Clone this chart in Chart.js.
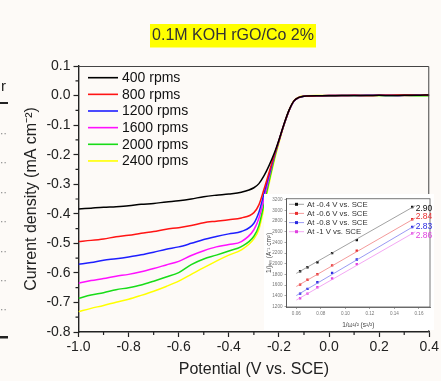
<!DOCTYPE html>
<html><head><meta charset="utf-8">
<script src="https://cdn.jsdelivr.net/npm/chart.js@4.4.1/dist/chart.umd.min.js"></script>
<style>
html,body{margin:0;padding:0;background:#fdfaf7;}
#wrap{position:relative;width:441px;height:381px;overflow:hidden;}
#main{position:absolute;left:0;top:0;}
#inset{position:absolute;left:264px;top:194px;}
</style></head><body>
<div id="wrap"><canvas id="main" width="441" height="381"></canvas><canvas id="inset" width="170" height="136"></canvas></div>
<script>
// ---------- data (main LSV curves) ----------
const potential = [-1.0,-0.95,-0.9,-0.85,-0.8,-0.75,-0.7,-0.65,-0.6,-0.55,-0.5,-0.45,-0.4,-0.35,-0.3,-0.28,-0.26,-0.24,-0.22,-0.2,-0.18,-0.16,-0.14,-0.12,-0.1,-0.05,0,0.05,0.1,0.15,0.2,0.25,0.3,0.35,0.4];
const j400  = [-0.384,-0.381,-0.378,-0.376,-0.373,-0.368,-0.365,-0.360,-0.356,-0.350,-0.342,-0.337,-0.333,-0.327,-0.312,-0.298,-0.272,-0.238,-0.198,-0.150,-0.097,-0.050,-0.018,-0.006,-0.002,-0.001,-0.001,0.000,0.000,0.000,0.001,0.000,0.001,0.001,0.002];
const j800  = [-0.494,-0.490,-0.485,-0.478,-0.473,-0.466,-0.460,-0.452,-0.447,-0.440,-0.430,-0.425,-0.420,-0.414,-0.396,-0.370,-0.318,-0.262,-0.205,-0.152,-0.098,-0.051,-0.018,-0.006,-0.002,-0.001,0.000,0.000,0.001,0.000,0.001,0.001,0.002,0.001,0.002];
const j1200 = [-0.571,-0.565,-0.557,-0.552,-0.546,-0.539,-0.530,-0.520,-0.512,-0.500,-0.487,-0.477,-0.468,-0.460,-0.432,-0.395,-0.333,-0.270,-0.208,-0.153,-0.099,-0.051,-0.019,-0.006,-0.002,-0.001,0.000,0.000,0.000,0.001,0.001,0.000,0.001,0.002,0.001];
const j1600 = [-0.635,-0.626,-0.619,-0.611,-0.605,-0.596,-0.585,-0.573,-0.561,-0.541,-0.525,-0.512,-0.504,-0.494,-0.454,-0.415,-0.350,-0.278,-0.210,-0.153,-0.099,-0.052,-0.019,-0.007,-0.002,-0.001,0.000,0.000,0.001,0.000,0.001,0.001,0.000,0.001,0.001];
const j2000 = [-0.686,-0.675,-0.667,-0.657,-0.650,-0.641,-0.628,-0.614,-0.599,-0.572,-0.553,-0.540,-0.526,-0.511,-0.476,-0.440,-0.368,-0.292,-0.218,-0.155,-0.100,-0.052,-0.019,-0.007,-0.002,-0.001,0.000,0.000,0.000,0.000,0.000,0.000,0.000,-0.001,-0.001];
const j2400 = [-0.731,-0.720,-0.710,-0.699,-0.689,-0.676,-0.662,-0.646,-0.628,-0.605,-0.582,-0.560,-0.540,-0.522,-0.485,-0.452,-0.380,-0.300,-0.225,-0.160,-0.100,-0.050,-0.017,-0.005,-0.001,0.000,0.000,0.000,0.000,0.000,0.000,0.000,0.000,0.000,0.000];
const rpmLabels = ['400 rpms','800 rpms','1200 rpms','1600 rpms','2000 rpms','2400 rpms'];
const xTicks = [-1.0,-0.8,-0.6,-0.4,-0.2,0.0,0.2,0.4];
const xMinor = [-0.9,-0.7,-0.5,-0.3,-0.1,0.1,0.3];
const yTicks = [-0.8,-0.7,-0.6,-0.5,-0.4,-0.3,-0.2,-0.1,0.0,0.1];
const yMinor = [-0.75,-0.65,-0.55,-0.45,-0.35,-0.25,-0.15,-0.05,0.05];
const chartTitle = '0.1M KOH rGO/Co 2%';

// ---------- data (inset K-L plot) ----------
const invSqrtOmega = [0.0631,0.0691,0.0772,0.0892,0.1093,0.1545];
const kl04 = [1860,1935,2030,2200,2445,3065];
const kl06 = [1610,1700,1805,1970,2245,2835];
const kl08 = [1440,1530,1655,1830,2080,2690];
const kl10 = [1355,1440,1560,1725,1995,2570];
const fitX = [0.060,0.157];
const fit04 = [1820,3090];
const fit06 = [1575,2860];
const fit08 = [1405,2720];
const fit10 = [1320,2600];
const klLabels = ['At -0.4 V vs. SCE','At -0.6 V vs. SCE','At -0.8 V vs. SCE','At -1 V vs. SCE'];
const electronNumbers = ['2.90','2.84','2.83','2.86'];
const insetXTicks = [0.06,0.08,0.10,0.12,0.14,0.16];
const insetYTicks = [1200,1400,1600,1800,2000,2200,2400,2600,2800,3000,3200];

// ---------- main chart ----------
const FONT = '"Liberation Sans", Arial, sans-serif';
const curveColors = ['#000000','#ff1414','#1e1eff','#ff10ff','#18dc18','#ffff00'];
const series = [j400,j800,j1200,j1600,j2000,j2400];
const fmt1 = v => (Math.abs(v) < 1e-9 ? '0.0' : Number(v).toFixed(1));

const decoPlugin = {
  id: 'deco',
  beforeDraw(chart) {
    const ctx = chart.ctx;
    ctx.save();
    ctx.fillStyle = '#222';
    ctx.font = '15px ' + FONT;
    ctx.textBaseline = 'alphabetic';
    ctx.fillText('r', 1, 91);
    ctx.fillRect(0, 102, 8, 2);
    ctx.fillRect(0, 336, 8, 2.5);
    ctx.fillStyle = '#999';
    [133,162,192,221,251,280,309].forEach(y => { ctx.fillRect(1, y, 1.3, 1.3); ctx.fillRect(4.5, y, 1.3, 1.3); });
    ctx.fillStyle = '#ffff00';
    ctx.fillRect(150, 24, 166, 23.5);
    ctx.fillStyle = '#333';
    ctx.font = '16px ' + FONT;
    ctx.textAlign = 'center';
    ctx.textBaseline = 'middle';
    ctx.fillText(chartTitle, 233, 36);
    ctx.restore();
  },
  afterDraw(chart) {
    const ctx = chart.ctx, a = chart.chartArea;
    const xs = chart.scales.x, ys = chart.scales.y;
    ctx.save();
    ctx.strokeStyle = '#444';
    ctx.lineWidth = 1;
    ctx.beginPath();
    ctx.moveTo(a.left, a.top + 0.5); ctx.lineTo(a.right - 0.5, a.top + 0.5); ctx.lineTo(a.right - 0.5, a.bottom);
    ctx.stroke();
    ctx.strokeStyle = '#222';
    ctx.lineWidth = 1.2;
    ctx.beginPath();
    xMinor.forEach(v => { const p = xs.getPixelForValue(v); ctx.moveTo(p, a.bottom); ctx.lineTo(p, a.bottom + 3); });
    yMinor.forEach(v => { const p = ys.getPixelForValue(v); ctx.moveTo(a.left, p); ctx.lineTo(a.left - 3, p); });
    ctx.stroke();
    chart.data.datasets.forEach((ds, i) => {
      const y = 77.7 + 16.65 * i;
      ctx.strokeStyle = ds.borderColor;
      ctx.lineWidth = 1.6;
      ctx.beginPath(); ctx.moveTo(88, y); ctx.lineTo(118, y); ctx.stroke();
      ctx.fillStyle = '#111';
      ctx.font = '14px ' + FONT;
      ctx.textBaseline = 'middle';
      ctx.textAlign = 'left';
      ctx.fillText(ds.label, 122, y + 0.5);
    });
    ctx.restore();
  }
};

new Chart(document.getElementById('main'), {
  type: 'line',
  data: {
    datasets: series.map((arr, i) => ({
      label: rpmLabels[i],
      data: potential.map((x, k) => ({ x: x, y: arr[k] })),
      borderColor: curveColors[i],
      borderWidth: 1.5,
      pointRadius: 0,
      cubicInterpolationMode: 'monotone',
      fill: false
    }))
  },
  options: {
    responsive: false,
    animation: false,
    layout: { padding: { top: 66, right: 6, left: 0, bottom: 0 } },
    plugins: { legend: { display: false }, tooltip: { enabled: false }, title: { display: false } },
    scales: {
      x: {
        type: 'linear', position: 'bottom', min: -1.0, max: 0.4,
        afterBuildTicks: s => { s.ticks = xTicks.map(v => ({ value: v })); },
        afterFit: s => { s.height = 49; },
        ticks: { callback: fmt1, font: { size: 14, family: FONT }, color: '#222', padding: 2, maxRotation: 0, autoSkip: false },
        grid: { drawOnChartArea: false, tickLength: 5, color: '#222', tickWidth: 1.2 },
        border: { color: '#222', width: 1.4 },
        title: { display: true, text: 'Potential (V vs. SCE)', font: { size: 16, family: FONT }, color: '#222', padding: { top: 0, bottom: 1.4 } }
      },
      y: {
        type: 'linear', position: 'left', min: -0.8, max: 0.1,
        afterBuildTicks: s => { s.ticks = yTicks.map(v => ({ value: v })); },
        afterFit: s => { s.width = 78.5; },
        ticks: { callback: fmt1, font: { size: 14, family: FONT }, color: '#222', padding: 3, autoSkip: false },
        grid: { drawOnChartArea: false, tickLength: 5, color: '#222', tickWidth: 1.2 },
        border: { color: '#222', width: 1.4 },
        title: { display: true, text: 'Current density (mA cm\u207B\u00B2)', font: { size: 16, family: FONT }, color: '#222', padding: { top: 22.4, bottom: 0 } }
      }
    }
  },
  plugins: [decoPlugin]
});

// ---------- inset chart ----------
const klColors = ['#111111','#e83030','#2a2ae0','#e040e0'];
const fitColors = ['#8a8a8a','#f08080','#8080f0','#f090f0'];
const klSeries = [kl04, kl06, kl08, kl10];
const fitSeries = [fit04, fit06, fit08, fit10];

const insetPlugin = {
  id: 'insetDeco',
  beforeDraw(chart) {
    const ctx = chart.ctx;
    ctx.save();
    ctx.fillStyle = '#ffffff';
    ctx.fillRect(0, 0, chart.width, chart.height);
    ctx.restore();
  },
  afterDraw(chart) {
    const ctx = chart.ctx, a = chart.chartArea;
    const xs = chart.scales.x, ys = chart.scales.y;
    ctx.save();
    ctx.strokeStyle = '#555';
    ctx.lineWidth = 0.8;
    ctx.strokeRect(a.left, a.top, a.right - a.left, a.bottom - a.top);
    const yOff = [10.3, 19.4, 28.6, 37.7];
    klLabels.forEach((lab, i) => {
      const y = yOff[i];
      ctx.strokeStyle = fitColors[i];
      ctx.lineWidth = 0.8;
      ctx.beginPath(); ctx.moveTo(25, y); ctx.lineTo(40, y); ctx.stroke();
      ctx.fillStyle = klColors[i];
      ctx.fillRect(31, y - 1.5, 3, 3);
      ctx.fillStyle = '#333';
      ctx.font = '7.8px ' + FONT;
      ctx.textBaseline = 'middle';
      ctx.fillText(lab, 43, y + 0.3);
    });
    const lastIdx = invSqrtOmega.length - 1;
    const dy = [2, -3, 0, 2];
    electronNumbers.forEach((t, i) => {
      const px = xs.getPixelForValue(invSqrtOmega[lastIdx]) + 3.5;
      const py = ys.getPixelForValue(klSeries[i][lastIdx]) + dy[i];
      ctx.fillStyle = klColors[i];
      ctx.font = '8.5px ' + FONT;
      ctx.textBaseline = 'middle';
      ctx.fillText(t, px, py);
    });
    ctx.restore();
  }
};

const insetDatasets = [];
fitSeries.forEach((arr, i) => insetDatasets.push({
  type: 'line', data: fitX.map((x, k) => ({ x: x, y: arr[k] })),
  borderColor: fitColors[i], borderWidth: 0.8, pointRadius: 0, fill: false
}));
klSeries.forEach((arr, i) => insetDatasets.push({
  type: 'scatter', data: invSqrtOmega.map((x, k) => ({ x: x, y: arr[k] })),
  backgroundColor: klColors[i], borderColor: klColors[i], borderWidth: 0,
  pointStyle: 'rect', pointRadius: 1.7, showLine: false
}));

new Chart(document.getElementById('inset'), {
  type: 'scatter',
  data: { datasets: insetDatasets },
  options: {
    responsive: false,
    animation: false,
    layout: { padding: { top: 3, right: 1, left: 0, bottom: 0 } },
    plugins: { legend: { display: false }, tooltip: { enabled: false } },
    scales: {
      x: {
        type: 'linear', position: 'bottom', min: 0.052, max: 0.169,
        afterBuildTicks: s => { s.ticks = insetXTicks.map(v => ({ value: v })); },
        afterFit: s => { s.height = 23; },
        ticks: { callback: v => Number(v).toFixed(2), font: { size: 4.6, family: FONT }, color: '#777', padding: 2, maxRotation: 0, autoSkip: false },
        grid: { drawOnChartArea: false, tickLength: 2, color: '#666', tickWidth: 0.6 },
        border: { color: '#555', width: 0.8 },
        title: { display: true, text: '1/\u03C9\u00B9/\u00B2 (s\u00B9/\u00B2)', font: { size: 6.5, family: FONT }, color: '#444', padding: { top: 0, bottom: 1.2 } }
      },
      y: {
        type: 'linear', position: 'left', min: 1190, max: 3220,
        afterBuildTicks: s => { s.ticks = insetYTicks.map(v => ({ value: v })); },
        afterFit: s => { s.width = 22.5; },
        ticks: { callback: v => String(Math.round(v)), font: { size: 4.6, family: FONT }, color: '#777', padding: 2, autoSkip: false },
        grid: { drawOnChartArea: false, tickLength: 2, color: '#666', tickWidth: 0.6 },
        border: { color: '#555', width: 0.8 },
        title: { display: true, text: '1/j\u2097\u1D62\u2098 (A\u207B\u00B9 cm\u00B2)', font: { size: 6.5, family: FONT }, color: '#444', padding: { top: 1.1, bottom: 0 } }
      }
    }
  },
  plugins: [insetPlugin]
});
</script>
</body></html>
